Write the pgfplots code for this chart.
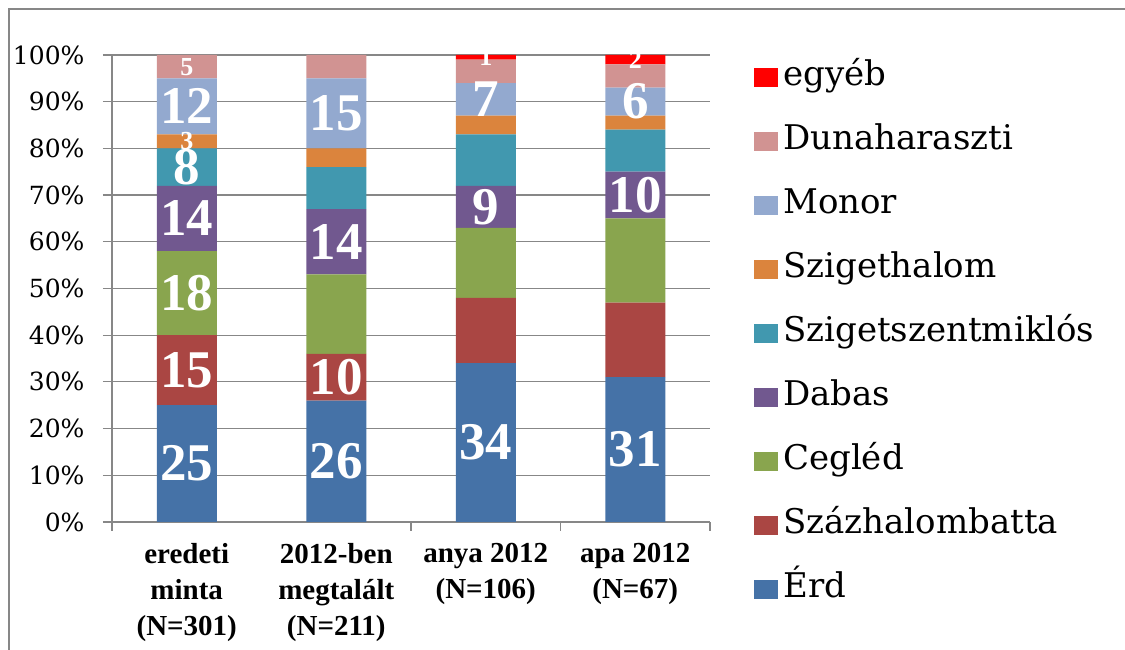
\documentclass[border=0pt]{standalone}
\usepackage{pgfplots}
\pgfplotsset{compat=1.18}
\usepackage{fontspec}
\setmainfont{DejaVu Serif}
\newfontfamily\lib{Liberation Serif}
\protected\def\sm{\fontsize{26}{26}\selectfont}
\definecolor{cErd}{HTML}{4572A7}
\definecolor{cSzaz}{HTML}{AA4643}
\definecolor{cCeg}{HTML}{89A54E}
\definecolor{cDab}{HTML}{71588F}
\definecolor{cSzm}{HTML}{4198AF}
\definecolor{cSzh}{HTML}{DB843D}
\definecolor{cMon}{HTML}{93A9CF}
\definecolor{cDun}{HTML}{D19392}
\definecolor{cEgy}{HTML}{FF0000}
\definecolor{gridc}{HTML}{878787}
\begin{document}
\begin{tikzpicture}[x=1pt,y=1pt]
\useasboundingbox (0,0) rectangle (1125,650);
\draw[gridc, line width=2.4pt] (9,0) -- (9,641) -- (1125,641);
\begin{axis}[
  at={(112pt,128pt)}, anchor=south west,
  scale only axis, width=598pt, height=467pt,
  ybar stacked, bar width=60pt,
  xmin=-0.5, xmax=3.5, ymin=0, ymax=100,
  axis x line*=bottom, axis y line*=left,
  axis line style={gridc, line width=1.4pt},
  xtick={-0.5,1.5,2.5,3.5}, xticklabels={{},{},{},{}},
  extra x ticks={0,1,2,3},
  extra x tick labels={{eredeti\\minta\\(N=301)},{2012-ben\\megtalált\\(N=211)},{anya 2012\\(N=106)},{apa 2012\\(N=67)}},
  extra x tick style={major tick length=0pt, xticklabel style={yshift=-18pt}},
  xticklabel style={font=\lib\bfseries\fontsize{29}{36}\selectfont, align=center, text=black},
  ytick={0,10,...,100},
  yticklabels={0\%,10\%,20\%,30\%,40\%,50\%,60\%,70\%,80\%,90\%,100\%},
  yticklabel style={font=\fontsize{25}{25}\selectfont, text=black, xshift=-15pt},
  tick style={gridc, line width=1.2pt},
  tick align=outside, major tick length=9pt,
  ymajorgrids, grid style={gridc, line width=1.2pt},
  point meta=explicit symbolic,
  nodes near coords,
  every node near coord/.append style={font=\lib\bfseries\fontsize{53}{53}\selectfont, text=white, anchor=center},
  reverse legend,
  legend style={at={(1.0736,0.4047)}, anchor=west, draw=none, fill=none, inner sep=0pt, row sep=22pt,
    font=\fontsize{34}{34}\selectfont, nodes={inner sep=5pt, text height=24pt, text depth=8pt}},
  legend cell align=left,
  legend image code/.code={\fill[#1] (0pt,-9.5pt) rectangle (24pt,9.5pt);},
]
\addplot[fill=cErd, draw=none] coordinates {(0,25) [25] (1,26) [26] (2,34) [34] (3,31) [31]};
\addplot[fill=cSzaz, draw=none] coordinates {(0,15) [15] (1,10) [10] (2,14) [] (3,16) []};
\addplot[fill=cCeg, draw=none] coordinates {(0,18) [18] (1,17) [] (2,15) [] (3,18) []};
\addplot[fill=cDab, draw=none] coordinates {(0,14) [14] (1,14) [14] (2,9) [9] (3,10) [10]};
\addplot[fill=cSzm, draw=none] coordinates {(0,8) [8] (1,9) [] (2,11) [] (3,9) []};
\addplot[fill=cSzh, draw=none] coordinates {(0,3) [\sm 3] (1,4) [] (2,4) [] (3,3) []};
\addplot[fill=cMon, draw=none] coordinates {(0,12) [12] (1,15) [15] (2,7) [7] (3,6) [6]};
\addplot[fill=cDun, draw=none] coordinates {(0,5) [\sm 5] (1,5) [] (2,5) [] (3,5) []};
\addplot[fill=cEgy, draw=none] coordinates {(0,0) [] (1,0) [] (2,1) [\sm 1] (3,2) [\sm 2]};
\legend{Érd,Százhalombatta,Cegléd,Dabas,Szigetszentmiklós,Szigethalom,Monor,Dunaharaszti,egyéb}
\end{axis}
\end{tikzpicture}
\end{document}
